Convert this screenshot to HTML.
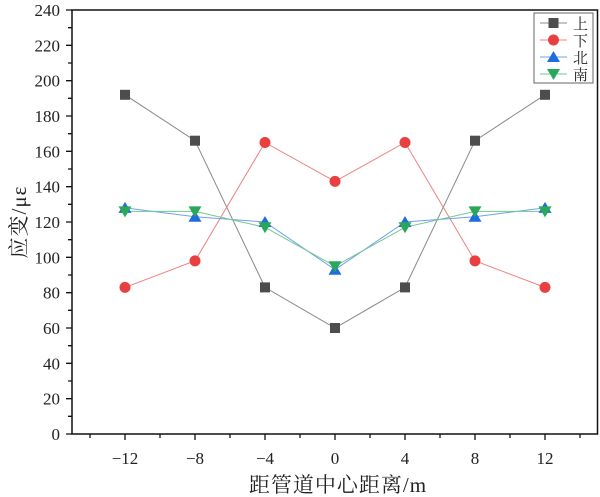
<!DOCTYPE html>
<html><head><meta charset="utf-8"><style>body{margin:0;background:#fff}svg{display:block}text{font-family:"Liberation Serif","Noto Serif CJK SC",serif;fill:#222}</style></head><body>
<svg width="600" height="497" viewBox="0 0 600 497" xmlns="http://www.w3.org/2000/svg">
<rect x="72" y="10" width="525.5" height="424" fill="none" stroke="#111" stroke-width="1.5"/>
<path stroke="#111" stroke-width="1.3" fill="none" d="M66 434H72M68 416.3H72M66 398.7H72M68 381H72M66 363.3H72M68 345.7H72M66 328H72M68 310.3H72M66 292.7H72M68 275H72M66 257.3H72M68 239.7H72M66 222H72M68 204.3H72M66 186.7H72M68 169H72M66 151.3H72M68 133.7H72M66 116H72M68 98.3H72M66 80.7H72M68 63H72M66 45.3H72M68 27.7H72M66 10H72
M90 434V438M125 434V440M160 434V438M195 434V440M230 434V438M265 434V440M300 434V438M335 434V440M370 434V438M405 434V440M440 434V438M475 434V440M510 434V438M545 434V440M580 434V438"/>
<g font-size="17" text-anchor="end">
<text x="60" y="440">0</text><text x="60" y="404.7">20</text><text x="60" y="369.3">40</text><text x="60" y="334">60</text><text x="60" y="298.7">80</text><text x="60" y="263.3">100</text><text x="60" y="228">120</text><text x="60" y="192.7">140</text><text x="60" y="157.3">160</text><text x="60" y="122">180</text><text x="60" y="86.7">200</text><text x="60" y="51.3">220</text><text x="60" y="16">240</text>
</g>
<g font-size="17" text-anchor="middle">
<text x="125" y="464">−12</text><text x="195" y="464">−8</text><text x="265" y="464">−4</text><text x="335" y="464">0</text><text x="405" y="464">4</text><text x="475" y="464">8</text><text x="545" y="464">12</text>
</g>
<text x="338" y="492" font-size="21" text-anchor="middle" letter-spacing="1">距管道中心距离/m</text>
<text transform="translate(26,222) rotate(-90)" font-size="21" text-anchor="middle" letter-spacing="1">应变/με</text>

<polyline fill="none" stroke="#888" stroke-width="1" points="125,94.8 195,140.7 265,287.4 335,328 405,287.4 475,140.7 545,94.8"/>
<polyline fill="none" stroke="#ee8080" stroke-width="1" points="125,287.4 195,260.9 265,142.5 335,181.4 405,142.5 475,260.9 545,287.4"/>
<polyline fill="none" stroke="#70a0ee" stroke-width="1" points="125,207.9 195,216.7 265,222 335,269.7 405,222 475,216.7 545,207.9"/>
<polyline fill="none" stroke="#70c890" stroke-width="1" points="125,211.4 195,211.4 265,227.3 335,266.2 405,227.3 475,211.4 545,211.4"/>

<g fill="#4d4d4d">
<rect x="120" y="89.8" width="10" height="10"/><rect x="190" y="135.7" width="10" height="10"/><rect x="260" y="282.4" width="10" height="10"/><rect x="330" y="323" width="10" height="10"/><rect x="400" y="282.4" width="10" height="10"/><rect x="470" y="135.7" width="10" height="10"/><rect x="540" y="89.8" width="10" height="10"/>
</g>
<g fill="#e84040">
<circle cx="125" cy="287.4" r="5.5"/><circle cx="195" cy="260.9" r="5.5"/><circle cx="265" cy="142.5" r="5.5"/><circle cx="335" cy="181.4" r="5.5"/><circle cx="405" cy="142.5" r="5.5"/><circle cx="475" cy="260.9" r="5.5"/><circle cx="545" cy="287.4" r="5.5"/>
</g>
<g fill="#1f6be0">
<polygon points="125,201.9 118.5,212.9 131.5,212.9"/><polygon points="195,210.7 188.5,221.7 201.5,221.7"/><polygon points="265,216 258.5,227 271.5,227"/><polygon points="335,263.7 328.5,274.7 341.5,274.7"/><polygon points="405,216 398.5,227 411.5,227"/><polygon points="475,210.7 468.5,221.7 481.5,221.7"/><polygon points="545,201.9 538.5,212.9 551.5,212.9"/>
</g>
<g fill="#2aa85a">
<polygon points="125,217.4 118.5,206.4 131.5,206.4"/><polygon points="195,217.4 188.5,206.4 201.5,206.4"/><polygon points="265,233.3 258.5,222.3 271.5,222.3"/><polygon points="335,272.2 328.5,261.2 341.5,261.2"/><polygon points="405,233.3 398.5,222.3 411.5,222.3"/><polygon points="475,217.4 468.5,206.4 481.5,206.4"/><polygon points="545,217.4 538.5,206.4 551.5,206.4"/>
</g>

<rect x="534" y="13" width="59" height="70" fill="#fff" stroke="#666" stroke-width="1"/>
<line x1="540" y1="23" x2="567" y2="23" stroke="#888"/><rect x="548.5" y="18" width="10" height="10" fill="#4d4d4d"/><text x="573" y="29" font-size="15">上</text>
<line x1="540" y1="40" x2="567" y2="40" stroke="#ee8080"/><circle cx="553.5" cy="40" r="5.5" fill="#e84040"/><text x="573" y="46" font-size="15">下</text>
<line x1="540" y1="57" x2="567" y2="57" stroke="#70a0ee"/><polygon points="553.5,51 547,62 560,62" fill="#1f6be0"/><text x="573" y="63" font-size="15">北</text>
<line x1="540" y1="74" x2="567" y2="74" stroke="#70c890"/><polygon points="553.5,80 547,69 560,69" fill="#2aa85a"/><text x="573" y="80" font-size="15">南</text>
</svg></body></html>
